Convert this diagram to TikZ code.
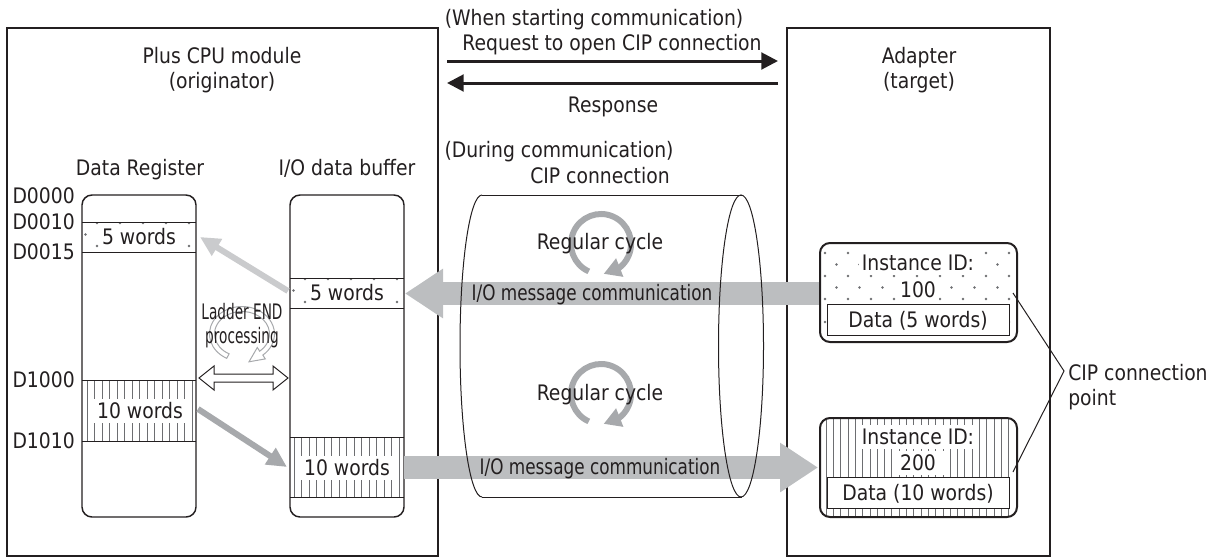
\documentclass[tikz,border=0pt]{standalone}
\usepackage{fontspec}
\setmainfont{DejaVu Sans}[FakeStretch=0.88]
\newfontfamily\condfont{DejaVu Sans}[FakeStretch=0.79]
\newfontfamily\narrowfont{DejaVu Sans}[FakeStretch=0.64]
\usetikzlibrary{arrows.meta,bending,calc}
\definecolor{ink}{HTML}{231F20}
\definecolor{cBig}{HTML}{BCBEC0}
\definecolor{cLight}{HTML}{CACBCD}
\definecolor{cDark}{HTML}{A7A9AC}
\definecolor{cDot}{HTML}{6D6E71}
\definecolor{cHatch}{HTML}{6D6E71}
\tikzset{
  txt/.style={inner sep=0pt, text height=11.5pt, text depth=0pt, text=ink, font=\fontsize{16}{19}\selectfont},
  wbg/.style={txt, fill=white, inner xsep=2pt, inner ysep=3pt},
  frame/.style={draw=ink, line width=1.5pt},
  colframe/.style={draw=ink, line width=1.1pt, rounded corners=7.5pt},
  bandline/.style={draw=ink, line width=0.75pt},
  dotc/.style={fill=cDot},
  hatchc/.style={draw=cHatch, line width=0.45pt},
  innerbox/.style={txt, draw=ink, fill=white, line width=0.75pt, minimum width=136.5pt, minimum height=23.25pt},
  thinarrow/.style={draw=ink, line width=2.25pt, -{Triangle[length=12.5pt,width=12.5pt]}},
  bigarrow/.style={draw=cBig, line width=17.25pt, -{Triangle[length=28.5pt,width=35.25pt]}},
  lightarrow/.style={draw=cLight, line width=4.5pt, -{Triangle[length=15pt,width=14pt]}},
  darkarrow/.style={draw=cDark, line width=4.5pt, -{Triangle[length=15pt,width=14pt]}},
  ringarrow/.style={draw=cDark, line width=4.5pt, -{Triangle[length=13pt,width=14pt]}},
  cyl/.style={draw=ink, line width=0.75pt},
  pointer/.style={draw=ink, line width=0.75pt},
  ibox/.style={draw=ink, line width=1.5pt, rounded corners=7.5pt},
}
\newcommand\dotgrid[6]{%
  \begin{scope}
    \clip (#1,#2) rectangle (#3,#4);
    \foreach \j in {0,...,9}{%
      \foreach \i in {0,...,10}{%
        \fill[dotc] ({#5+23*\i-11.5*mod(\j,2)},{#6+11.5*\j}) circle[radius=1.4];
      }}
  \end{scope}}
\newcommand\hatchgrid[5]{%
  \begin{scope}
    \clip (#1,#2) rectangle (#3,#4);
    \foreach \k in {0,...,30}{\draw[hatchc] ({#5+7.5*\k},#2) -- ({#5+7.5*\k},#4);}
  \end{scope}}
\begin{document}
\begin{tikzpicture}[x=0.75pt,y=-0.75pt]
\useasboundingbox (0,0) rectangle (1214,557);
% outer frames
\draw[frame] (7,28) rectangle (438,556);
\draw[frame] (787,28) rectangle (1050,556);
% titles
\node[txt] (plus) at (222,56) {Plus CPU module};
\node[txt] (orig) at (222,81) {(originator)};
\node[txt] (adp) at (919,56) {Adapter};
\node[txt] (tgt) at (919,81) {(target)};
\node[txt] (when) at (594,18) {(When starting communication)};
\node[txt] (req) at (612,43) {Request to open CIP connection};
\node[txt] (resp) at (613,105) {Response};
\node[txt] (during) at (559,150) {(During communication)};
\node[txt] (cipc) at (600,176) {CIP connection};
\node[txt] (drl) at (140,168) {Data Register};
\node[txt] (iol) at (347,168) {I/O data buffer};
% top arrows
\coordinate (rqL) at (447,61);
\coordinate (rqR) at (778,61);
\coordinate (rsR) at (778,83);
\coordinate (rsL) at (447,83);
\draw[thinarrow] (rqL) -- (rqR);
\draw[thinarrow] (rsR) -- (rsL);
% address labels
\node[txt, anchor=east] (d0000) at (75,196) {D0000};
\node[txt, anchor=east] (d0010) at (75,222) {D0010};
\node[txt, anchor=east] (d0015) at (75,252) {D0015};
\node[txt, anchor=east] (d1000) at (75,380) {D1000};
\node[txt, anchor=east] (d1010) at (75,441) {D1010};
% bands patterns
\dotgrid{82}{222}{196}{252}{97}{223}
\dotgrid{290}{278}{404}{308}{305}{279}
\hatchgrid{82}{380}{196}{441}{87}
\hatchgrid{290}{437}{404}{497}{294}
\draw[bandline] (82,222) -- (196,222);
\draw[bandline] (82,252) -- (196,252);
\draw[bandline] (82,380) -- (196,380);
\draw[bandline] (82,441) -- (196,441);
\draw[bandline] (290,278) -- (404,278);
\draw[bandline] (290,308) -- (404,308);
\draw[bandline] (290,437) -- (404,437);
\draw[bandline] (290,497) -- (404,497);
% columns
\draw[colframe] (82,195) rectangle (196,517);
\draw[colframe] (290,195) rectangle (404,517);
\node[wbg] (dr5) at (139,237) {5 words};
\node[wbg] (io5) at (347,293) {5 words};
\node[wbg] (dr10) at (140,411) {10 words};
\node[wbg] (io10) at (347,468) {10 words};
% arrows between columns
\coordinate (laT) at (288,291);
\coordinate (laH) at (200,237);
\coordinate (daT) at (198,409);
\coordinate (daH) at (287,467);
\draw[lightarrow] (laT) -- (laH);
\draw[darkarrow] (daT) -- (daH);
% ladder END ring (hollow)
\filldraw[fill=white, draw=cDark, line width=0.75pt]
  (226.7,358.3) arc[start angle=118, end angle=410, x radius=32.5, y radius=27.5]
  -- (265.3,358.9) -- (249.0,361.8) -- (257.3,347.5) -- (259.7,351.2)
  arc[start angle=410, end angle=118, x radius=27.5, y radius=22.5] -- cycle;
\node[txt, font=\narrowfont\fontsize{16}{19}\selectfont] (lad) at (242,312) {Ladder END};
\node[txt, font=\narrowfont\fontsize{16}{19}\selectfont] (proc) at (242,335.5) {processing};
% hollow double arrow
\filldraw[fill=white, draw=ink, line width=0.75pt]
  (199,378) -- (214,366) -- (214,374) -- (273,374) -- (273,366) -- (288,378)
  -- (273,390) -- (273,382) -- (214,382) -- (214,390) -- cycle;
% big arrows
\coordinate (uaT) at (820,293.5);
\coordinate (uaH) at (405,293.5);
\coordinate (baT) at (404,467.5);
\coordinate (baH) at (818,467.5);
\draw[bigarrow] (uaT) -- (uaH);
\draw[bigarrow] (baT) -- (baH);
% cylinder
\draw[cyl] (482,195) -- (742,195);
\draw[cyl] (482,497) -- (742,497);
\draw[cyl] (482,195) arc[start angle=270, end angle=90, x radius=22, y radius=151];
\draw[cyl] (741,346) ellipse[x radius=22.5, y radius=151];
% regular cycle rings
\coordinate (rc1) at (601,244);
\coordinate (rc2) at (601,394);
\draw[ringarrow] ($(rc1)+(114:30)$) arc[start angle=114, end angle=445, radius=30];
\draw[ringarrow] ($(rc2)+(114:30)$) arc[start angle=114, end angle=445, radius=30];
\node[txt] (reg1) at (600,242) {Regular cycle};
\node[txt] (reg2) at (600,393) {Regular cycle};
\node[txt, font=\condfont\fontsize{16}{19}\selectfont] (iom1) at (592,293) {I/O message communication};
\node[txt, font=\condfont\fontsize{16}{19}\selectfont] (iom2) at (600,467) {I/O message communication};
% instance box 100
\begin{scope}
  \clip[rounded corners=7.5pt] (820,243) rectangle (1017,342);
  \foreach \j in {0,...,8}{%
    \foreach \i in {0,...,9}{%
      \fill[dotc] ({825+23*\i-11.5*mod(\j,2)},{253+11.5*\j}) circle[radius=1.4];
    }}
\end{scope}
\draw[ibox] (820,243) rectangle (1017,342);
\node[wbg] (id1) at (918,263) {Instance ID:};
\node[wbg] (n100) at (918,290) {100};
\node[innerbox] (d5) at (918,319.5) {Data (5 words)};
% instance box 200
\begin{scope}
  \clip[rounded corners=7.5pt] (820,418) rectangle (1017,517);
  \foreach \k in {0,...,30}{\draw[hatchc] ({826+7.3*\k},418) -- ({826+7.3*\k},517);}
\end{scope}
\draw[ibox] (820,418) rectangle (1017,517);
\node[wbg, inner xsep=4pt] (id2) at (918,437) {Instance ID:};
\node[wbg, inner xsep=6pt] (n200) at (918,463) {200};
\node[innerbox] (d10) at (918,493) {Data (10 words)};
% CIP connection point
\coordinate (cp1) at (1013,293);
\coordinate (cpv) at (1064,371);
\coordinate (cp2) at (1013,472);
\draw[pointer] (cp1) -- (cpv) -- (cp2);
\node[txt, anchor=west] (cpt1) at (1068,373) {CIP connection};
\node[txt, anchor=west] (cpt2) at (1068,398) {point};
\end{tikzpicture}
\end{document}
